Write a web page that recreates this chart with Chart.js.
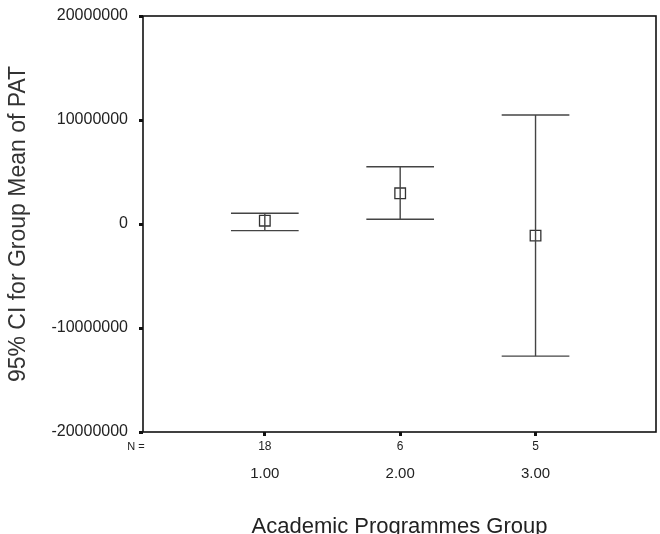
<!DOCTYPE html>
<html>
<head>
<meta charset="utf-8">
<script src="https://cdn.jsdelivr.net/npm/chart.js@4"></script>
<style>
  html, body { margin: 0; padding: 0; background: #fff; }
  #wrap { width: 660px; height: 534px; }
</style>
</head>
<body>
<div id="wrap"><canvas id="ciChart" width="660" height="534"></canvas></div>
<script>
// group codes and their labels
const groups = [1, 2, 3];
const groupLabels = ['1.00', '2.00', '3.00'];
const groupN = [18, 6, 5];

// mean of PAT and 95% CI bounds per group
const means = [320000, 2950000, -1120000];
const lower = [-640000, 450000, -12700000];
const upper = [1030000, 5500000, 10480000];

const yTicks = [-20000000, -10000000, 0, 10000000, 20000000];

const capHalf = 0.25; // half width of CI caps, in x units
const lineColor = '#444';
const textColor = '#222';
const fontFamily = 'Arial, "Liberation Sans", sans-serif';

// build whisker + cap line datasets from the CI arrays
const barSets = [];
groups.forEach(function (g, i) {
  const common = {
    type: 'line',
    borderColor: lineColor,
    borderWidth: 1.4,
    pointRadius: 0,
    pointHoverRadius: 0,
    fill: false,
    tension: 0
  };
  barSets.push(Object.assign({ data: [{ x: g, y: lower[i] }, { x: g, y: upper[i] }] }, common));
  barSets.push(Object.assign({ data: [{ x: g - capHalf, y: upper[i] }, { x: g + capHalf, y: upper[i] }] }, common));
  barSets.push(Object.assign({ data: [{ x: g - capHalf, y: lower[i] }, { x: g + capHalf, y: lower[i] }] }, common));
});

const meanSet = {
  type: 'scatter',
  data: groups.map(function (g, i) { return { x: g, y: means[i] }; }),
  pointStyle: 'rect',
  pointRadius: 7.5,
  pointHoverRadius: 7.5,
  pointBackgroundColor: 'rgba(0,0,0,0)',
  pointBorderColor: '#333',
  pointBorderWidth: 1.3
};

// frame round the plot area plus the "N =" caption
const framePlugin = {
  id: 'frame',
  afterDraw: function (chart) {
    const a = chart.chartArea;
    const ctx = chart.ctx;
    ctx.save();
    ctx.strokeStyle = '#111';
    ctx.lineWidth = 1.6;
    ctx.strokeRect(a.left, a.top, a.right - a.left, a.bottom - a.top);
    ctx.fillStyle = textColor;
    ctx.font = '11px ' + fontFamily;
    ctx.textAlign = 'center';
    ctx.textBaseline = 'middle';
    ctx.fillText('N =', a.left - 7, a.bottom + 15);
    ctx.restore();
  }
};

const sameTicks = function (scale) {
  scale.ticks = groups.map(function (g) { return { value: g }; });
};
const noPad = function (s) {
  s.paddingLeft = 0; s.paddingRight = 0; s.paddingTop = 0; s.paddingBottom = 0;
};

new Chart(document.getElementById('ciChart').getContext('2d'), {
  type: 'scatter',
  data: { datasets: barSets.concat([meanSet]) },
  options: {
    responsive: false,
    animation: false,
    layout: { autoPadding: false, padding: { left: 0, right: 4, top: 16, bottom: 0 } },
    plugins: {
      legend: { display: false },
      tooltip: { enabled: false }
    },
    scales: {
      xN: {
        type: 'linear',
        position: 'bottom',
        min: 0.1,
        max: 3.89,
        afterBuildTicks: sameTicks,
        afterFit: function (s) { noPad(s); s.height = 24; },
        grid: { display: true, drawOnChartArea: false, tickLength: 4, tickWidth: 3, tickColor: '#111' },
        border: { display: false },
        ticks: {
          color: textColor,
          font: { family: fontFamily, size: 12 },
          padding: 3,
          maxRotation: 0,
          callback: function (v, i) { return String(groupN[i]); }
        }
      },
      x: {
        type: 'linear',
        position: 'bottom',
        min: 0.1,
        max: 3.89,
        afterBuildTicks: sameTicks,
        afterFit: function (s) { noPad(s); s.height = 78; },
        grid: { display: false },
        border: { display: false },
        ticks: {
          color: textColor,
          font: { family: fontFamily, size: 15 },
          padding: 1,
          maxRotation: 0,
          callback: function (v, i) { return groupLabels[i]; }
        },
        title: {
          display: true,
          text: 'Academic Programmes Group',
          color: textColor,
          font: { family: fontFamily, size: 22, lineHeight: 1 },
          padding: { top: 0, bottom: -4 }
        }
      },
      y: {
        type: 'linear',
        min: -20000000,
        max: 20000000,
        afterBuildTicks: function (s) { s.ticks = yTicks.map(function (v) { return { value: v }; }); },
        afterFit: function (s) { noPad(s); s.width = 143; },
        grid: { display: true, drawOnChartArea: false, tickLength: 4, tickWidth: 3, tickColor: '#111' },
        border: { display: false },
        ticks: {
          color: textColor,
          font: { family: fontFamily, size: 16 },
          padding: 11,
          callback: function (v) { return String(v); }
        },
        title: {
          display: true,
          text: '95% CI for Group Mean of PAT',
          color: '#333',
          font: { family: fontFamily, size: 23, lineHeight: 1 },
          padding: { top: 7, bottom: 0 }
        }
      }
    }
  },
  plugins: [framePlugin]
});
</script>
</body>
</html>
